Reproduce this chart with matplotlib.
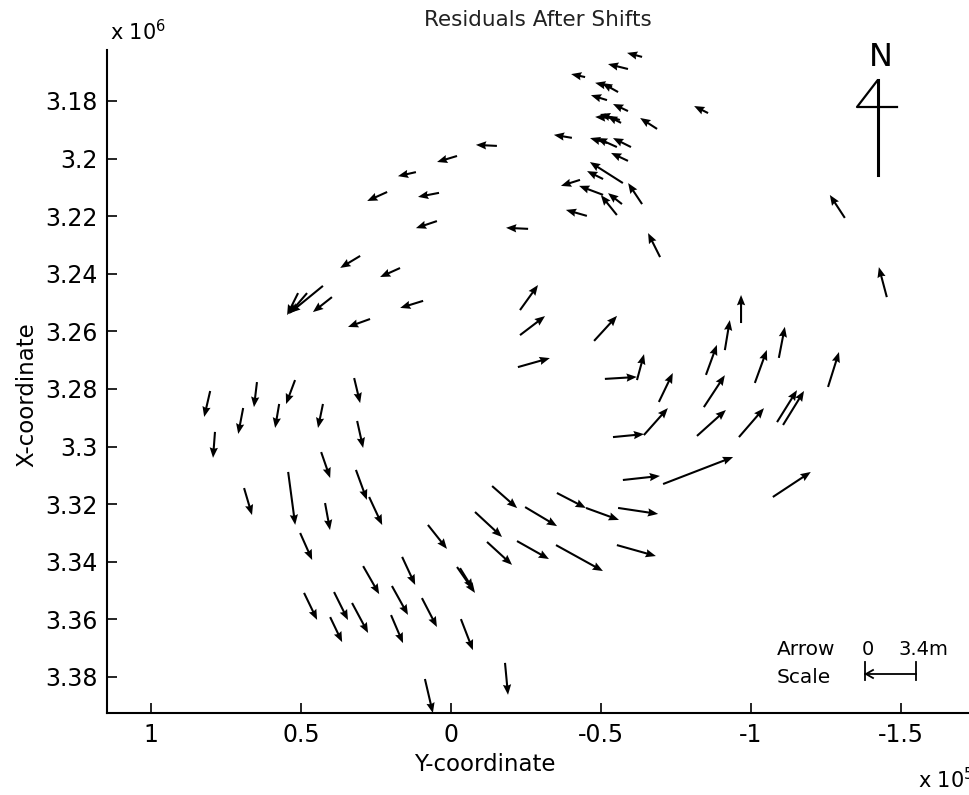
import matplotlib
matplotlib.use("Agg")
import matplotlib.pyplot as plt

# tail positions: Y-coordinate (x 10^5) and X-coordinate (x 10^6)
y_coord = [-0.637, -0.590, -0.447, -0.537, -0.557, -0.520, -0.590, -0.537, -0.563, -0.567,
           -0.687, -0.857, -0.403, -0.520, -0.553, -0.600, -0.590, -0.573, -0.507, -0.637,
           -0.430, -0.507, -0.553, -0.570, -0.453, -0.697, -1.313, -1.453,
           -0.153, -0.020, 0.117, 0.213, 0.040, 0.047, -0.257, 0.303, 0.170, 0.510,
           0.480, 0.427, 0.397, 0.093, 0.270,
           -0.230, -0.230, -0.223, -0.477, -0.513, -0.620, -0.967, -0.913, -0.850, -1.093,
           -1.013, -1.257, -0.693, -0.843, -0.643, -0.540, -0.820, -0.960, -1.087, -1.107,
           -0.573, -0.707, -1.073,
           -0.137, -0.247, -0.353, -0.450, -0.557, -0.080, -0.120, -0.220, -0.350, -0.553, -0.030, 0.077,
           0.803, 0.647, 0.520, 0.323, 0.693, 0.573, 0.427, 0.787, 0.433, 0.313,
           0.690, 0.543, 0.420, 0.317, 0.273, 0.503, 0.163, 0.293, -0.020, 0.197,
           0.390, 0.330, 0.403, 0.490, 0.097, 0.200, -0.033, -0.180, 0.087]

x_coord = [3.1647, 3.1689, 3.1717, 3.1751, 3.1769, 3.1797, 3.1835, 3.1859, 3.1866, 3.1876,
           3.1897, 3.1842, 3.1928, 3.1946, 3.1960, 3.1960, 3.2008, 3.2085, 3.2071, 3.2158,
           3.2074, 3.2126, 3.2196, 3.2158, 3.2199, 3.2342, 3.2206, 3.2481,
           3.1956, 3.1991, 3.2047, 3.2116, 3.2119, 3.2217, 3.2244, 3.2338, 3.2380, 3.2467,
           3.2467, 3.2442, 3.2481, 3.2494, 3.2557,
           3.2526, 3.2613, 3.2724, 3.2633, 3.2765, 3.2769, 3.2571, 3.2665, 3.2751, 3.2692,
           3.2779, 3.2793, 3.2845, 3.2863, 3.2960, 3.2967, 3.2963, 3.2967, 3.2915, 3.2925,
           3.3116, 3.3130, 3.3175,
           3.3137, 3.3210, 3.3161, 3.3213, 3.3213, 3.3227, 3.3331, 3.3328, 3.3342, 3.3342, 3.3422, 3.3272,
           3.2807, 3.2776, 3.2769, 3.2762, 3.2866, 3.2852, 3.2852, 3.2949, 3.3019, 3.2911,
           3.3144, 3.3088, 3.3196, 3.3081, 3.3175, 3.3300, 3.3383, 3.3415, 3.3418, 3.3484,
           3.3505, 3.3543, 3.3592, 3.3508, 3.3526, 3.3585, 3.3599, 3.3751, 3.3807]

# residual components in metres (east = right on page, north = up on page)
res_e = [-1.0, -1.33, -0.93, -1.13, -1.07, -1.07, -1.0, -1.13, -1.33, -0.93,
         -1.13, -0.93, -1.2, -1.13, -1.33, -1.2, -1.13, -2.2, -1.07, -0.93,
         -1.27, -1.6, -1.07, -0.93, -1.4, -0.8, -1.0, -0.53,
         -1.4, -1.33, -1.2, -1.33, -1.4, -1.4, -1.47, -1.33, -1.33, -0.73,
         -1.2, -2.2, -1.27, -1.53, -1.47,
         1.2, 1.67, 2.13, 1.53, 2.13, 0.47, 0.0, 0.33, 0.73, 0.4,
         0.8, 0.73, 0.93, 1.4, 1.6, 2.07, 1.93, 1.67, 1.33, 1.4,
         2.47, 4.67, 2.53,
         1.67, 2.13, 1.93, 2.2, 2.67, 1.8, 1.67, 2.13, 3.13, 2.6, 0.87, 1.27,
         -0.4, -0.2, -0.6, 0.4, -0.33, -0.27, -0.33, -0.13, 0.6, 0.4,
         0.53, 0.47, 0.33, 0.73, 0.87, 0.8, 0.87, 1.07, 1.2, 1.07,
         0.93, 1.07, 0.8, 0.87, 1.0, 0.8, 0.8, 0.2, 0.53]

res_n = [0.27, 0.33, 0.2, 0.27, 0.6, 0.33, 0.47, 0.07, 0.4, 0.47,
         0.73, 0.47, 0.2, 0.33, 0.6, 0.6, 0.53, 1.4, 0.53, 1.4,
         -0.4, 0.6, 1.33, 0.73, 0.4, 1.6, 1.53, 2.0,
         0.07, -0.4, -0.27, -0.6, -0.27, -0.47, 0.07, -0.8, -0.6, -1.47,
         -1.4, -1.8, -1.0, -0.47, -0.53,
         1.67, 1.27, 0.6, 1.67, 0.13, 1.73, 1.87, 2.0, 2.0, 2.07,
         2.2, 2.33, 1.93, 2.13, 1.8, 0.2, 1.73, 1.93, 2.13, 2.27,
         0.27, 1.8, 1.67,
         -1.47, -1.27, -1.0, -0.8, -0.4, -1.67, -1.53, -1.2, -1.73, -0.73, -1.4, -1.6,
         -1.73, -1.67, -1.6, -1.67, -1.73, -1.6, -1.6, -1.73, -1.73, -1.8,
         -1.8, -3.53, -1.8, -2.0, -1.87, -1.8, -1.87, -1.87, -1.73, -1.93,
         -1.87, -2.0, -1.67, -1.8, -1.93, -1.87, -2.07, -2.13, -2.27]

x_ticks = [1, 0.5, 0, -0.5, -1, -1.5]
x_labels = ['1', '0.5', '0', '-0.5', '-1', '-1.5']
y_ticks = [3.18, 3.2, 3.22, 3.24, 3.26, 3.28, 3.3, 3.32, 3.34, 3.36, 3.38]
y_labels = ['3.18', '3.2', '3.22', '3.24', '3.26', '3.28', '3.3', '3.32', '3.34', '3.36', '3.38']

scale_len = 3.4  # metres shown on the arrow scale
m_per_inch = 100 / 15.0

plt.rcParams['font.family'] = 'DejaVu Sans'
W, H = 969, 795
fig = plt.figure(figsize=(W / 100, H / 100), dpi=100)
ax = fig.add_axes([107 / W, (H - 713) / H, (W - 107) / W, (713 - 50) / H])


def fx(px):
    return px / W


def fy(py):
    return 1 - py / H


ax.quiver(y_coord, x_coord, res_e, res_n, angles='uv', scale_units='inches',
          scale=m_per_inch, pivot='tail', color='black', width=0.0024,
          headwidth=4, headlength=5, headaxislength=4.5)

ax.set_xlim(1.147, -1.727)
ax.set_ylim(3.3925, 3.1623)
ax.set_xticks(x_ticks)
ax.set_xticklabels(x_labels)
ax.set_yticks(y_ticks)
ax.set_yticklabels(y_labels)
ax.tick_params(direction='in', length=7, width=1.2, labelsize=17, pad=7)
for s in ['top', 'right']:
    ax.spines[s].set_visible(False)
for s in ['left', 'bottom']:
    ax.spines[s].set_linewidth(1.5)

ax.set_title('Residuals After Shifts', fontsize=15.5, pad=17, color='#222222')
ax.set_xlabel('Y-coordinate', fontsize=16.5)
ax.xaxis.set_label_coords((485 - 107) / 862, -0.060)
ax.set_ylabel('X-coordinate', fontsize=16.5)
ax.yaxis.set_label_coords(-0.080, (713 - 395) / 663)

fig.text(fx(110), fy(40), r'x 10$^{6}$', fontsize=15, va='baseline')
fig.text(fx(918), fy(788), r'x 10$^{5}$', fontsize=15, va='baseline')

# north symbol
fig.text(fx(881), fy(58), 'N', fontsize=23, ha='center', va='center')
ax.plot([fx(878), fx(878)], [fy(80), fy(175)], transform=fig.transFigure,
        color='black', lw=2.2, clip_on=False)
ax.plot([fx(877), fx(857), fx(897)], [fy(81), fy(107), fy(107)],
        transform=fig.transFigure, color='black', lw=1.6, clip_on=False)

# arrow scale
bar_px = scale_len / m_per_inch * 100
x0 = 865
fig.text(fx(777), fy(655), 'Arrow', fontsize=14.5, va='baseline')
fig.text(fx(777), fy(683), 'Scale', fontsize=14.5, va='baseline')
fig.text(fx(862), fy(655), '0', fontsize=14, va='baseline')
fig.text(fx(898), fy(655), '3.4m', fontsize=14, va='baseline')
ax.plot([fx(x0), fx(x0 + bar_px)], [fy(674), fy(674)], transform=fig.transFigure,
        color='black', lw=1.3, clip_on=False)
for xe in [x0, x0 + bar_px]:
    ax.plot([fx(xe), fx(xe)], [fy(662), fy(680)], transform=fig.transFigure,
            color='black', lw=1.3, clip_on=False)
ax.plot([fx(x0 + 8), fx(x0 + 1), fx(x0 + 8)], [fy(670), fy(674), fy(678)],
        transform=fig.transFigure, color='black', lw=1.3, clip_on=False)

fig.savefig('out.png', dpi=100)
